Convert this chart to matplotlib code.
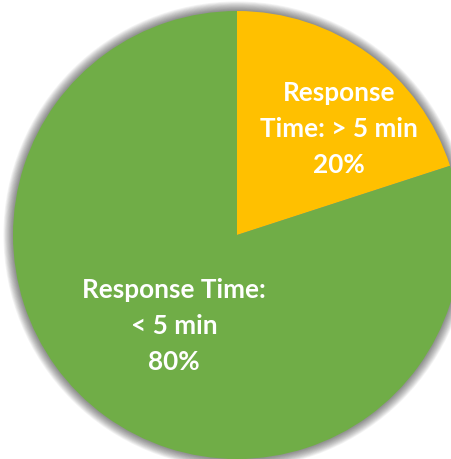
import matplotlib
matplotlib.use("Agg")
import matplotlib.pyplot as plt
from matplotlib.patches import Circle

# ── Data ─────────────────────────────────────────────────────────────────────
labels = ["Response\nTime: > 5 min\n20%", "Response Time:\n< 5 min\n80%"]
shares = [20, 80]
colors = ["#FFC000", "#70AD47"]

W, H = 451, 459
center = (237, H - 235)
radius = 224

fig = plt.figure(figsize=(W / 100, H / 100), dpi=100)
ax = fig.add_axes([0, 0, 1, 1])

# soft outer shadow
for k in range(12, 0, -1):
    ax.add_patch(Circle(center, radius + k * 0.8, color="black",
                        alpha=0.045, lw=0, zorder=0))

ax.pie(shares, colors=colors, startangle=90, counterclock=False,
       center=center, radius=radius, frame=True,
       wedgeprops=dict(linewidth=0, zorder=1))
ax.set_xlim(0, W)
ax.set_ylim(0, H)
ax.set_aspect("equal")
ax.axis("off")

text_kw = dict(ha="center", va="center", color="white", fontsize=18.8,
               fontweight="bold", family="Lato", linespacing=1.6, zorder=3)
ax.text(339, H - 129, labels[0], **text_kw)
ax.text(174, H - 326, labels[1], **text_kw)

fig.savefig("out.png", dpi=100)
